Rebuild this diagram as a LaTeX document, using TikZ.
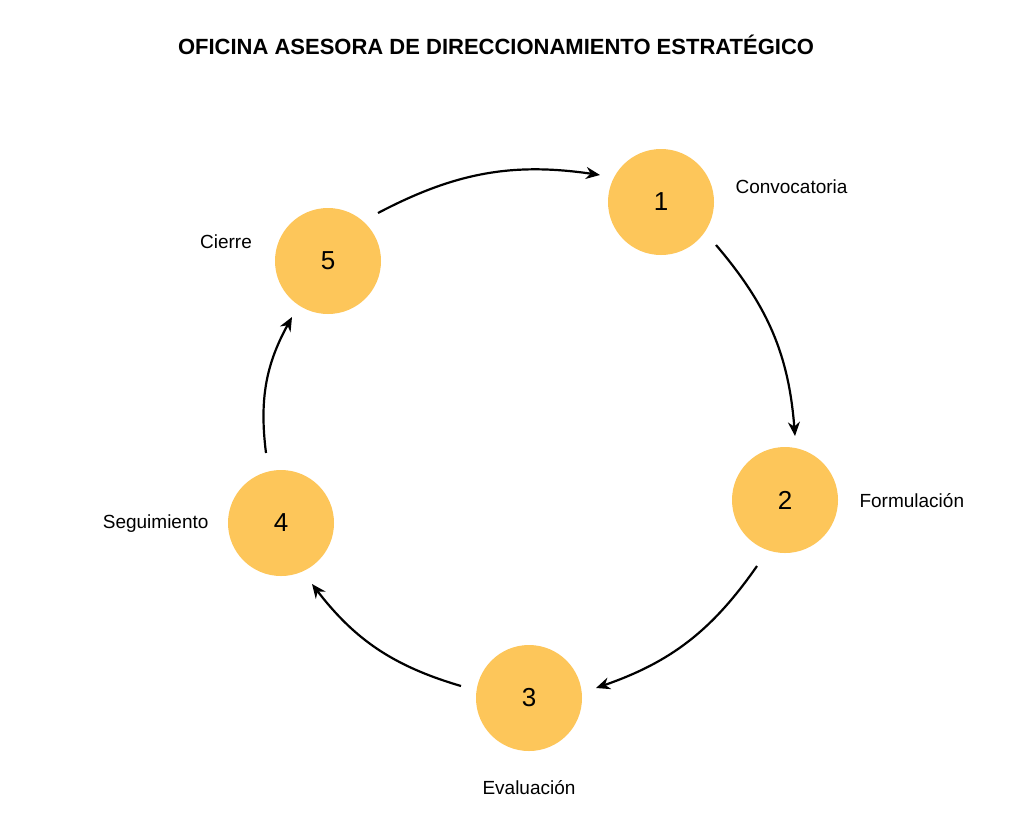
\documentclass[tikz,border=0pt]{standalone}
\usepackage{fontspec}
\setmainfont{Liberation Sans}
\usetikzlibrary{arrows.meta}
\definecolor{cyel}{HTML}{FDC65A}
\begin{document}
\begin{tikzpicture}[x=1pt,y=-1pt,
  st/.style={circle,fill=cyel,minimum size=106pt,inner sep=0pt,font=\fontsize{26}{30}\selectfont},
  lb/.style={font=\fontsize{19}{22}\selectfont},
  ar/.style={-{Stealth[length=14pt,width=12pt]},line width=2.2pt}]
\useasboundingbox[fill=white] (0,0) rectangle (1024,815);
\node[font=\bfseries\fontsize{22}{26}\selectfont] (t) at (496,45) {OFICINA ASESORA DE DIRECCIONAMIENTO ESTRATÉGICO};
\node[st] (n1) at (661,202) {1};
\node[st] (n2) at (785,500) {2};
\node[st] (n3) at (529,698) {3};
\node[st] (n4) at (281,523) {4};
\node[st] (n5) at (328,261) {5};
\node[lb,anchor=west] (l1) at (732,187) {Convocatoria};
\node[lb,anchor=west] (l2) at (856,501) {Formulación};
\node[lb] (l3) at (529,788) {Evaluación};
\node[lb,anchor=east] (l4) at (212,524) {Seguimiento};
\node[lb] (l5) at (226,242) {Cierre};
\coordinate (a1) at (378,213); \coordinate (b1) at (600,175);
\coordinate (a2) at (716,245); \coordinate (b2) at (795,436);
\coordinate (a3) at (757,566); \coordinate (b3) at (596,688);
\coordinate (a4) at (461,686); \coordinate (b4) at (312,584);
\coordinate (a5) at (266,453); \coordinate (b5) at (292,317);
\draw[ar] (a1) to[bend left=18] (b1);
\draw[ar] (a2) to[bend left=18] (b2);
\draw[ar] (a3) to[bend left=18] (b3);
\draw[ar] (a4) to[bend left=18] (b4);
\draw[ar] (a5) to[bend left=18] (b5);
\end{tikzpicture}
\end{document}
